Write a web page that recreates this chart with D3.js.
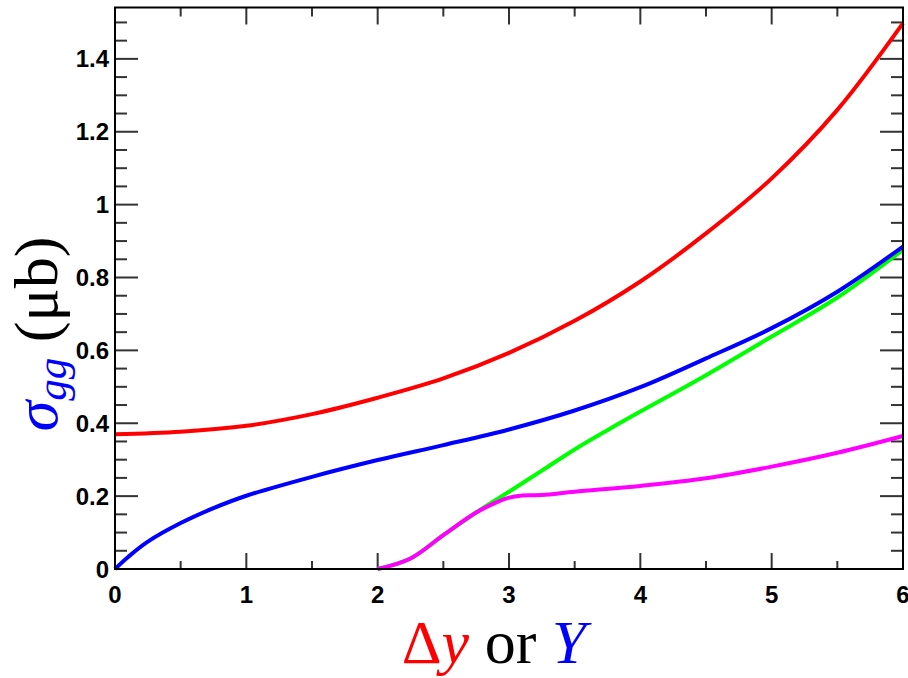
<!DOCTYPE html>
<html>
<head>
<meta charset="utf-8">
<script src="https://cdn.jsdelivr.net/npm/d3@7"></script>
<style>
  body { margin: 0; background: #fff; }
  svg { display: block; }
  .tick-label { font-family: 'Liberation Sans', Arial, sans-serif; font-weight: bold; font-size: 24px; }
  .title { font-family: 'Liberation Serif', 'DejaVu Serif', serif; }
</style>
</head>
<body>
<svg id="chart" width="908" height="678"></svg>
<script>
// values
var redX = [0, 0.5, 1, 1.5, 2, 2.5, 3, 3.5, 4, 4.5, 5, 5.5, 6];
var redY = [0.370, 0.377, 0.393, 0.425, 0.470, 0.523, 0.593, 0.681, 0.789, 0.921, 1.072, 1.260, 1.498];

var blueX = [0, 0.1, 0.25, 0.5, 0.75, 1, 1.5, 2, 2.5, 3, 3.5, 4, 4.5, 5, 5.5, 6];
var blueY = [0, 0.033, 0.075, 0.126, 0.167, 0.201, 0.253, 0.299, 0.340, 0.383, 0.435, 0.499, 0.578, 0.661, 0.761, 0.885];

var greenX = [2, 2.25, 2.5, 2.75, 3, 3.25, 3.5, 3.75, 4, 4.5, 5, 5.5, 6];
var greenY = [0, 0.029, 0.093, 0.155, 0.212, 0.270, 0.328, 0.381, 0.432, 0.532, 0.638, 0.745, 0.876];

var magentaX = [2, 2.25, 2.5, 2.75, 2.9, 3, 3.1, 3.25, 3.5, 4, 4.5, 5, 5.5, 6];
var magentaY = [0, 0.029, 0.093, 0.155, 0.182, 0.196, 0.202, 0.203, 0.212, 0.228, 0.249, 0.281, 0.319, 0.365];

var xTicks = [0, 1, 2, 3, 4, 5, 6];
var yTicks = [0, 0.2, 0.4, 0.6, 0.8, 1, 1.2, 1.4];

var chart = d3.select("#chart");

var frame = { left: 115, right: 903, top: 7.5, bottom: 569 };

var x = d3.scaleLinear().domain([0, 6]).range([frame.left, frame.right]);
var y = d3.scaleLinear().domain([0, 1.541]).range([frame.bottom, frame.top]);

function zip(xs, ys) {
    return xs.map(function(d, i) { return [d, ys[i]]; });
}

var series = [
    { pts: zip(redX, redY), color: "#ff0000" },
    { pts: zip(greenX, greenY), color: "#00ff00" },
    { pts: zip(blueX, blueY), color: "#0000ff" },
    { pts: zip(magentaX, magentaY), color: "#ff00ff" }
];

var line = d3.line()
    .x(function(d) { return x(d[0]); })
    .y(function(d) { return y(d[1]); })
    .curve(d3.curveCatmullRom.alpha(0.5));

// minor + major tick marks on all four sides (pointing inward)
var xMinor = d3.range(0, 6.01, 0.5);
var yMinor = d3.range(0, 1.541, 0.05);
var ticks = chart.append("g").attr("stroke", "#333").attr("stroke-width", 2);

xMinor.forEach(function(v) {
    var major = Math.abs(v - Math.round(v)) < 1e-6;
    var len = major ? 16 : 8;
    ticks.append("line").attr("x1", x(v)).attr("x2", x(v)).attr("y1", frame.bottom).attr("y2", frame.bottom - len);
    ticks.append("line").attr("x1", x(v)).attr("x2", x(v)).attr("y1", frame.top).attr("y2", frame.top + len + 1);
});
yMinor.forEach(function(v) {
    var major = Math.abs(v * 5 - Math.round(v * 5)) < 1e-6;
    var len = major ? 23 : 12;
    ticks.append("line").attr("x1", frame.left).attr("x2", frame.left + len).attr("y1", y(v)).attr("y2", y(v));
    ticks.append("line").attr("x1", frame.right).attr("x2", frame.right - len).attr("y1", y(v)).attr("y2", y(v));
});

chart.append("g").selectAll("path")
    .data(series)
    .enter().append("path")
    .attr("d", function(d) { return line(d.pts); })
    .attr("fill", "none")
    .attr("stroke", function(d) { return d.color; })
    .attr("stroke-width", 4)
    .attr("stroke-linejoin", "round");

chart.append("rect")
    .attr("x", frame.left).attr("y", frame.top)
    .attr("width", frame.right - frame.left).attr("height", frame.bottom - frame.top)
    .attr("fill", "none").attr("stroke", "#000").attr("stroke-width", 2);

// tick labels
chart.append("g").selectAll("text")
    .data(xTicks)
    .enter().append("text")
    .attr("class", "tick-label")
    .attr("x", function(d) { return x(d); })
    .attr("y", 603)
    .attr("text-anchor", "middle")
    .text(function(d) { return d; });

chart.append("g").selectAll("text")
    .data(yTicks)
    .enter().append("text")
    .attr("class", "tick-label")
    .attr("x", 109)
    .attr("y", function(d) { return y(d) + 8.5; })
    .attr("text-anchor", "end")
    .text(function(d) { return d; });

// axis titles
var xt = chart.append("text")
    .attr("class", "title")
    .attr("x", 494).attr("y", 663)
    .attr("text-anchor", "middle")
    .style("font-size", "62px");
xt.append("tspan").attr("fill", "#ff0000").text("\u0394");
xt.append("tspan").attr("fill", "#ff0000").style("font-style", "italic").text("y");
xt.append("tspan").attr("fill", "#000").text(" or ");
xt.append("tspan").attr("fill", "#0000ff").style("font-style", "italic").text("Y");

var yt = chart.append("text")
    .attr("class", "title")
    .attr("transform", "translate(57,334) rotate(-90)")
    .attr("text-anchor", "middle")
    .style("font-size", "62px");
yt.append("tspan").attr("fill", "#0000ff").style("font-style", "italic").text("\u03c3");
yt.append("tspan").attr("fill", "#0000ff").style("font-style", "italic").style("font-size", "43px").attr("dy", 9).text("gg");
yt.append("tspan").attr("fill", "#000").attr("dy", -9).text(" (\u03bcb)");
</script>
</body>
</html>
